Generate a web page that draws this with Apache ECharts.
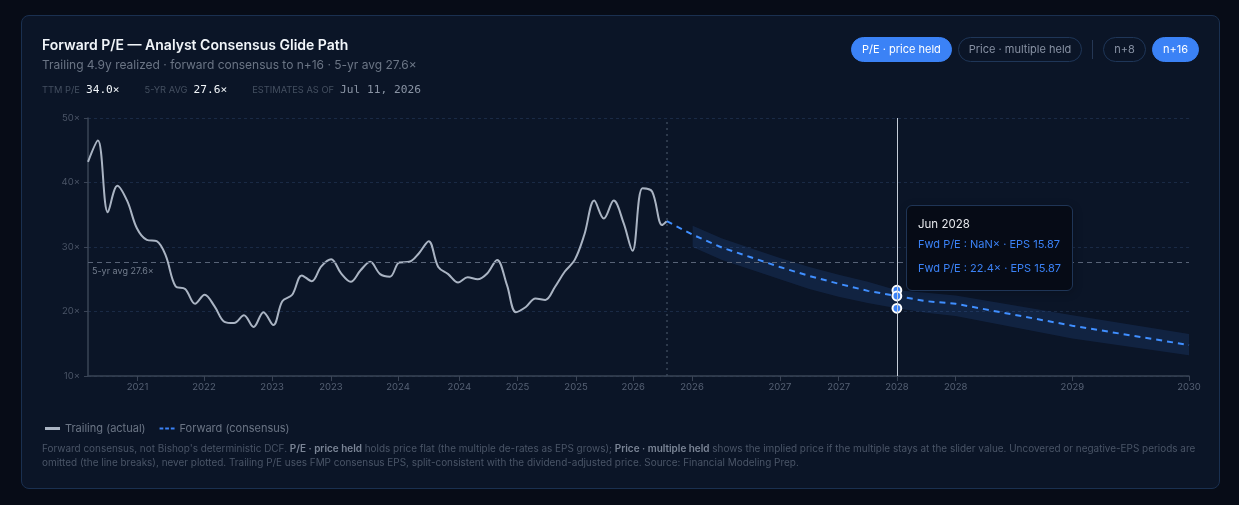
<!DOCTYPE html>
<html>
<head>
<meta charset="utf-8">
<script src="https://cdn.jsdelivr.net/npm/echarts@6.0.0/dist/echarts.min.js"></script>
<style>
  body { margin: 0; width: 1239px; height: 505px; overflow: hidden; background: #070c17; font-family: Inter, "Noto Sans", sans-serif; }
  .card { position: absolute; left: 21px; top: 15px; width: 1197px; height: 472px; border: 1px solid #1a3050; border-radius: 8px; background: #0b1527; }
  #chart { position: absolute; left: 0; top: 0; width: 1239px; height: 505px; }
  .title { position: absolute; left: 42px; top: 36px; font-size: 14px; font-weight: 600; color: #f1f5f9; }
  .sub { position: absolute; left: 42px; top: 57px; font-size: 12px; color: #6b7585; }
  .stats { position: absolute; left: 42px; top: 83px; display: flex; align-items: baseline; font-size: 9.3px; color: #444f60; text-transform: uppercase; }
  .stats b { font-family: "DejaVu Sans Mono", monospace; font-weight: normal; font-size: 11.2px; color: #f1f5f9; text-transform: none; margin: 0 25px 0 6px; }
  .stats b.dim { color: #8a94a4; }
  .btns { position: absolute; left: 851px; top: 37px; display: flex; align-items: center; }
  .btn { height: 23px; line-height: 23px; padding: 0 10px; border-radius: 13px; border: 1px solid #1f3658; color: #8791a3; font-size: 11px; margin-right: 6px; white-space: nowrap; }
  .btn.on { background: #3b82f6; border-color: #3b82f6; color: #ffffff; }
  .sep { width: 1px; height: 19px; background: #253754; margin: 0 10px 0 4px; }
  .foot { position: absolute; left: 42px; top: 441px; font-size: 9.95px; line-height: 14px; color: #4a5567; white-space: nowrap; }
  .foot b { color: #7b8596; font-weight: 600; }
</style>
</head>
<body>
<div class="card"></div>
<div id="chart"></div>
<div class="title">Forward P/E — Analyst Consensus Glide Path</div>
<div class="sub">Trailing 4.9y realized · forward consensus to n+16 · 5-yr avg 27.6×</div>
<div class="stats">TTM P/E<b>34.0×</b>5-yr avg<b>27.6×</b>Estimates as of<b class="dim">Jul 11, 2026</b></div>
<div class="btns">
  <div class="btn on">P/E · price held</div>
  <div class="btn">Price · multiple held</div>
  <div class="sep"></div>
  <div class="btn">n+8</div>
  <div class="btn on">n+16</div>
</div>
<div class="foot">Forward consensus, not Bishop's deterministic DCF. <b>P/E · price held</b> holds price flat (the multiple de-rates as EPS grows); <b>Price · multiple held</b> shows the implied price if the multiple stays at the slider value. Uncovered or negative-EPS periods are<br>omitted (the line breaks), never plotted. Trailing P/E uses FMP consensus EPS, split-consistent with the dividend-adjusted price. Source: Financial Modeling Prep.</div>
<script>
// trailing P/E, monthly from Jul 2021, last point = estimates date
var trailDates = [
  '2021-07-26','2021-08-26','2021-09-26','2021-10-26','2021-11-26','2021-12-26',
  '2022-01-26','2022-02-26','2022-03-26','2022-04-26','2022-05-26','2022-06-26',
  '2022-07-26','2022-08-26','2022-09-26','2022-10-26','2022-11-26','2022-12-26',
  '2023-01-26','2023-02-26','2023-03-26','2023-04-26','2023-05-26','2023-06-26',
  '2023-07-26','2023-08-26','2023-09-26','2023-10-26','2023-11-26','2023-12-26',
  '2024-01-26','2024-02-26','2024-03-26','2024-04-26','2024-05-26','2024-06-26',
  '2024-07-26','2024-08-26','2024-09-26','2024-10-26','2024-11-26','2024-12-26',
  '2025-01-26','2025-02-26','2025-03-26','2025-04-26','2025-05-26','2025-06-26',
  '2025-07-26','2025-08-26','2025-09-26','2025-10-26','2025-11-26','2025-12-26',
  '2026-01-26','2026-02-26','2026-03-26','2026-04-26','2026-05-26','2026-06-26',
  '2026-07-11'
];
var trailPE = [
  43.2, 46.5, 35.4, 39.5, 37.1, 32.9, 31.1, 30.9, 28.7, 23.9, 23.5, 21.2,
  22.6, 20.8, 18.4, 18.2, 19.4, 17.6, 19.9, 17.9, 21.6, 22.6, 25.6, 24.7,
  27.0, 28.1, 25.9, 24.6, 26.4, 27.7, 25.8, 25.4, 27.6, 27.7, 29.0, 30.9,
  26.9, 25.8, 24.5, 25.3, 25.0, 25.9, 28.0, 24.1, 19.9, 20.7, 22.0, 21.8,
  23.8, 26.2, 28.0, 31.9, 37.2, 34.4, 37.2, 33.7, 29.4, 39.1, 38.6, 33.4,
  34.0
];

// forward consensus path (price held)
var fwdDates = ['2026-07-11','2026-09-30','2026-12-31','2027-03-31','2027-06-30','2027-09-30','2027-12-31',
  '2028-03-31','2028-06-30','2028-09-30','2028-12-31','2029-12-31','2030-12-31'];
var fwdPE  = [34.0, 31.9, 29.9, 28.4, 26.9, 25.5, 24.3, 23.2, 22.4, 21.6, 21.2, 17.8, 14.8];
var fwdEPS = [10.46, 11.14, 11.89, 12.52, 13.22, 13.94, 14.63, 15.32, 15.87, 16.46, 16.77, 19.97, 24.02];

// analyst range band
var bandDates = fwdDates.slice(1);
var bandLo = [30.0, 28.0, 26.5, 25.0, 23.5, 22.3, 21.3, 20.5, 19.8, 19.3, 15.8, 13.2];
var bandHi = [33.3, 31.3, 29.8, 28.3, 26.9, 25.7, 24.6, 23.3, 22.9, 22.5, 19.4, 16.5];

var avgPE = 27.6;
var asOf = '2026-07-11';
var axisStart = '2021-07-26';
var axisEnd = '2030-12-31';

// x-axis tick dates (labels show the year)
var tickDates = ['2021-12-28','2022-07-24','2023-02-22','2023-08-25','2024-03-22','2024-09-30',
  '2025-03-31','2025-09-30','2026-03-28','2026-09-28','2027-06-30','2027-12-31',
  '2028-06-30','2028-12-31','2029-12-31','2030-12-31'];

var months = ['Jan','Feb','Mar','Apr','May','Jun','Jul','Aug','Sep','Oct','Nov','Dec'];
function ts(s) { return new Date(s + 'T00:00:00').getTime(); }

var trailData = trailDates.map(function (d, i) { return [ts(d), trailPE[i]]; });
var fwdData = fwdDates.map(function (d, i) { return { value: [ts(d), fwdPE[i]], pe: fwdPE[i] }; });
var loData = bandDates.map(function (d, i) { return [ts(d), bandLo[i]]; });
var hiData = bandDates.map(function (d, i) { return { value: [ts(d), bandHi[i]] }; });
var bandRows = bandDates.map(function (d, i) { return [ts(d), bandLo[i], bandHi[i]]; });
var fwdTs = fwdDates.map(ts);

var blue = '#3b82f6';
var dot = { color: blue, borderColor: '#ffffff', borderWidth: 2 };

// band fill: one polygon, upper edge forward then lower edge back
function renderBand(params, api) {
  if (params.dataIndex !== 0) return;
  var pts = [];
  bandRows.forEach(function (r) { pts.push(api.coord([r[0], r[2]])); });
  for (var i = bandRows.length - 1; i >= 0; i--) pts.push(api.coord([bandRows[i][0], bandRows[i][1]]));
  return {
    type: 'polygon',
    shape: { points: pts },
    style: { fill: 'rgba(59,130,246,0.13)' }
  };
}

var chart = echarts.init(document.getElementById('chart'));
chart.setOption({
  animation: false,
  textStyle: { fontFamily: 'Inter' },
  grid: { left: 88, right: 50, top: 118, bottom: 129 },
  legend: {
    left: 40, top: 418, itemWidth: 15, itemHeight: 3, itemGap: 14,
    textStyle: { color: '#6b7585', fontSize: 11 },
    itemStyle: { borderWidth: 0 },
    data: [
      { name: 'Trailing (actual)', icon: 'rect', itemStyle: { color: '#aab4c3' } },
      { name: 'Forward (consensus)', icon: 'path://M0,0h4v2h-4zM6,0h4v2h-4zM12,0h4v2h-4z', itemStyle: { color: blue } }
    ]
  },
  tooltip: {
    trigger: 'axis',
    alwaysShowContent: true,
    transitionDuration: 0,
    backgroundColor: '#060b16',
    borderColor: '#1f3556',
    borderWidth: 1,
    borderRadius: 6,
    padding: [10, 11],
    axisPointer: { type: 'line', lineStyle: { color: '#c5cdd8', width: 1, type: 'solid' } },
    position: function () { return [906, 205]; },
    formatter: function (params) {
      var rows = params.filter(function (p) { return p.seriesId === 'bandHi' || p.seriesId === 'fwd'; });
      if (!rows.length) return '';
      var d = new Date(rows[0].value[0]);
      var html = '<div style="color:#e5e7eb;font-size:11.5px;line-height:16px">' + months[d.getMonth()] + ' ' + d.getFullYear() + '</div>';
      rows.forEach(function (p) {
        var eps = fwdEPS[fwdTs.indexOf(p.value[0])];
        html += '<div style="color:' + blue + ';font-size:11px;line-height:24px">Fwd P/E : ' +
          Number(p.data.pe).toFixed(1) + '× · EPS ' + eps.toFixed(2) + '</div>';
      });
      return html;
    }
  },
  xAxis: {
    type: 'value',
    min: ts(axisStart),
    max: ts(axisEnd),
    axisLine: { lineStyle: { color: '#3a4456', width: 1.5 } },
    axisTick: { length: 5, lineStyle: { color: '#3a4456' }, customValues: tickDates.map(ts) },
    axisLabel: {
      customValues: tickDates.map(ts),
      color: '#566174', fontSize: 9.5, margin: 6,
      formatter: function (v) { return String(new Date(v).getFullYear()); }
    },
    splitLine: { show: false }
  },
  yAxis: {
    type: 'value',
    min: 10, max: 50, interval: 10,
    axisLine: { show: true, lineStyle: { color: '#3a4456', width: 1.5 } },
    axisTick: { show: true, length: 4, lineStyle: { color: '#3a4456' } },
    axisLabel: { color: '#4a5466', fontSize: 9.5, formatter: '{value}×' },
    splitLine: { lineStyle: { color: '#1a2a45', type: [3, 3] } }
  },
  series: [
    {
      id: 'trail', name: 'Trailing (actual)', type: 'line',
      data: trailData, smooth: 0.35, showSymbol: false, symbol: 'none',
      lineStyle: { color: '#aab4c3', width: 2 },
      itemStyle: { color: '#aab4c3' },
      markLine: {
        silent: true, symbol: ['none', 'none'], animation: false,
        data: [
          { yAxis: avgPE, lineStyle: { color: '#586377', type: [5, 4], width: 1 },
            label: { show: true, position: 'insideStartBottom', formatter: '5-yr avg 27.6×', color: '#737d8d', fontSize: 9, distance: [4, 4] } },
          { xAxis: ts(asOf), lineStyle: { color: '#3a4658', type: [2, 4], width: 1.5 }, label: { show: false } }
        ]
      }
    },
    {
      id: 'bandFill', type: 'custom', silent: true, z: 1,
      data: bandRows, renderItem: renderBand,
      encode: { x: 0, y: [1, 2] }
    },
    {
      id: 'bandLo', name: 'band', type: 'line',
      data: loData, showSymbol: false, symbol: 'circle', symbolSize: 8,
      lineStyle: { width: 0, opacity: 0 }, itemStyle: dot
    },
    {
      id: 'bandHi', name: 'band', type: 'line',
      data: hiData, showSymbol: false, symbol: 'circle', symbolSize: 8,
      lineStyle: { width: 0, opacity: 0 }, itemStyle: dot
    },
    {
      id: 'fwd', name: 'Forward (consensus)', type: 'line', z: 3,
      data: fwdData, showSymbol: false, symbol: 'circle', symbolSize: 8,
      lineStyle: { color: blue, width: 2, type: [6, 5] },
      itemStyle: dot
    }
  ]
});

chart.dispatchAction({ type: 'showTip', seriesIndex: 4, dataIndex: fwdDates.indexOf('2028-06-30') });
</script>
</body>
</html>
